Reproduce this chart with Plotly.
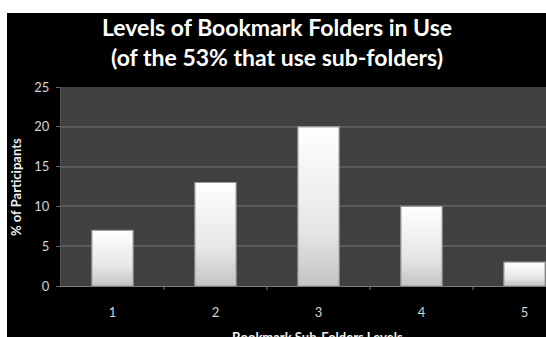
import plotly.graph_objects as go

# Survey results: depth of bookmark sub-folder hierarchies
levels = [1, 2, 3, 4, 5]
pct_participants = [7, 13, 20, 10, 3]
y_ticks = [0, 5, 10, 15, 20, 25]

title_text = "Levels of Bookmark Folders in Use<br>(of the 53% that use sub-folders)"
x_title = "Bookmark Sub-Folders Levels"
y_title = "% of Participants"

W, H = 546, 337
ML, MR, MT, MB = 61, 0, 87, 51
PW, PH = W - ML - MR, H - MT - MB

def px_x(p):
    return (p - ML) / PW

def px_y(p):
    return (H - MB - p) / PH

bar_w = 0.4
font = "Lato"

fig = go.Figure()

# Bars as filled outlines so they can carry a vertical gradient
for lv, v in zip(levels, pct_participants):
    x0, x1 = lv - bar_w / 2, lv + bar_w / 2
    fig.add_trace(go.Scatter(
        x=[x0, x1, x1, x0, x0],
        y=[0, 0, v, v, 0],
        mode="lines",
        fill="toself",
        fillgradient=dict(
            type="vertical",
            start=0,
            stop=v,
            colorscale=[[0, "#c4c4c4"], [0.35, "#e6e6e6"], [1, "#ffffff"]],
        ),
        line=dict(color="#9c9c9c", width=1.2),
        hoverinfo="skip",
        showlegend=False,
    ))

fig.update_layout(
    width=W,
    height=H,
    margin=dict(l=ML, r=MR, t=MT, b=MB, pad=0),
    paper_bgcolor="#000000",
    plot_bgcolor="#404040",
    showlegend=False,
    xaxis=dict(
        range=[0.5, 0.5 + PW / 103],
        tickmode="array",
        tickvals=levels,
        ticktext=[str(l) for l in levels],
        ticks="",
        ticklabelstandoff=14,
        showgrid=False,
        zeroline=False,
        showline=True,
        linecolor="#7a7a7a",
        linewidth=1,
        tickfont=dict(family=font, size=13, color="#d4d4d4"),
        fixedrange=True,
    ),
    yaxis=dict(
        range=[0, 25],
        tickmode="array",
        tickvals=y_ticks,
        ticks="outside",
        ticklen=4,
        tickcolor="#6a6a6a",
        ticklabelstandoff=4,
        showgrid=True,
        gridcolor="#5a5a5a",
        gridwidth=2,
        zeroline=False,
        showline=True,
        linecolor="#555555",
        linewidth=1,
        tickfont=dict(family=font, size=13, color="#d4d4d4"),
        fixedrange=True,
    ),
)

# Category divider ticks below the x axis
for b in [1.5, 2.5, 3.5, 4.5]:
    fig.add_shape(type="line", xref="x", yref="paper",
                  x0=b, x1=b, y0=0, y1=-4 / PH,
                  line=dict(color="#7a7a7a", width=1))

# White page margin along the top and left edges
fig.add_shape(type="rect", xref="paper", yref="paper",
              x0=px_x(0), x1=px_x(W), y0=px_y(13), y1=px_y(0),
              fillcolor="#ffffff", line=dict(width=0), layer="above")
fig.add_shape(type="rect", xref="paper", yref="paper",
              x0=px_x(0), x1=px_x(7), y0=px_y(H), y1=px_y(0),
              fillcolor="#ffffff", line=dict(width=0), layer="above")

fig.add_annotation(
    text="<b>" + title_text + "</b>",
    xref="paper", yref="paper",
    x=px_x(277), y=px_y(42),
    xanchor="center", yanchor="middle",
    showarrow=False,
    font=dict(family=font, size=23, color="#ffffff"),
)
fig.add_annotation(
    text="<b>" + y_title + "</b>",
    xref="paper", yref="paper",
    x=px_x(16), y=px_y(187),
    xanchor="center", yanchor="middle",
    textangle=-90,
    showarrow=False,
    font=dict(family=font, size=13, color="#f0f0f0"),
)
fig.add_annotation(
    text="<b>" + x_title + "</b>",
    xref="paper", yref="paper",
    x=px_x(317), y=px_y(327),
    xanchor="center", yanchor="top",
    showarrow=False,
    font=dict(family=font, size=13, color="#f0f0f0"),
)

fig.write_html("out.html")
